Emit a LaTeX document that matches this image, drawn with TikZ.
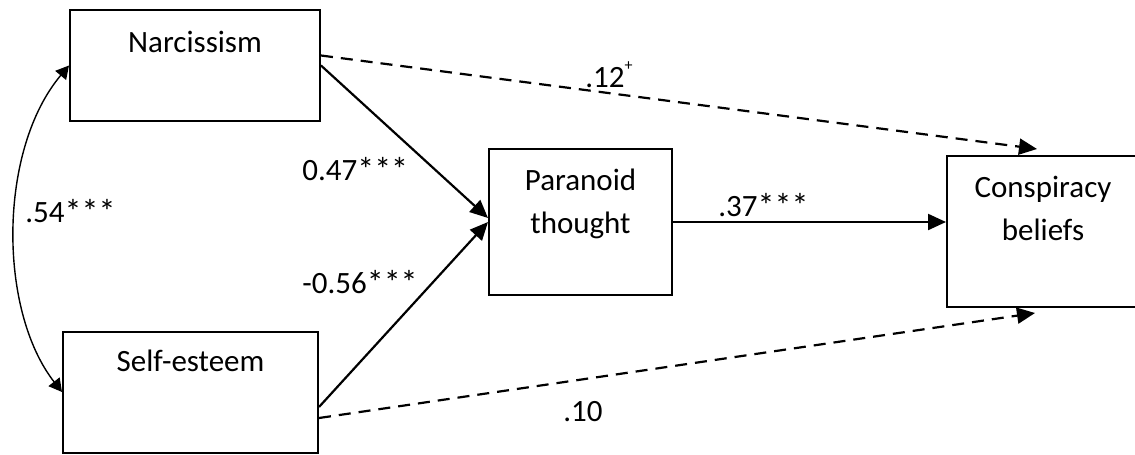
\documentclass[tikz,border=0pt]{standalone}
\usepackage{fontspec}
\setmainfont{Carlito}
\usetikzlibrary{arrows.meta}
\newcommand\stars{{\fontsize{17}{17}\selectfont\raisebox{-0.6pt}{***}}}

\begin{document}
\begin{tikzpicture}[x=0.5pt,y=-0.5pt,
    font=\fontsize{15.5}{21.5}\selectfont,
    box/.style={draw,line width=1pt,inner sep=0pt,align=center,text height=42pt},
    path/.style={line width=1.1pt,-{Triangle[length=9pt,width=8pt]}},
    dpath/.style={path,dash pattern=on 6pt off 4pt},
    coef/.style={anchor=base west,inner sep=0pt}]
    \useasboundingbox (0,0) rectangle (1135,455);
    \clip (0,0) rectangle (1135,455);
    % variables
    \node[box,minimum width=125pt,text height=21pt,text depth=34.5pt](narc)at(195,65.5){Narcissism};
    \node[box,minimum width=127.5pt,text height=20pt,text depth=40.5pt](self)at(190.5,392){Self-esteem};
    \node[box,minimum width=91.5pt,text depth=31pt](par)at(580.5,222){Paranoid\\thought};
    \node[box,minimum width=96pt,text depth=33.5pt](con)at(1043,231.5){Conspiracy\\beliefs};
    % paths
    \draw[line width=0.7pt,{Triangle[length=6.5pt,width=7pt]}-{Triangle[length=6.5pt,width=7pt]}]
        (narc.west) .. controls (-2,150) and (-2,310) .. (self.west);
    \draw[path](narc.east)--([yshift=2pt]par.west);
    \draw[path]([yshift=-7.5pt]self.east)--(par.west);
    \draw[path](par.east)--(par.east -| con.west);
    \draw[dpath]([yshift=5pt]narc.east)--([xshift=-3pt,yshift=3pt]con.north);
    \draw[dpath]([yshift=-13pt]self.east)--([xshift=-4pt,yshift=-2.5pt]con.south);
    % coefficients
    \node[coef](c54)at(25,222){.54\stars};
    \node[coef](c47)at(302,180){0.47\stars};
    \node[coef](c56)at(302,293){-0.56\stars};
    \node[coef](c37)at(718,216){.37\stars};
    \node[coef](c12)at(585,87){.12\raisebox{1.1ex}{\fontsize{8}{8}\selectfont +}};
    \node[coef](c10)at(563,421){.10};
\end{tikzpicture}
\end{document}
